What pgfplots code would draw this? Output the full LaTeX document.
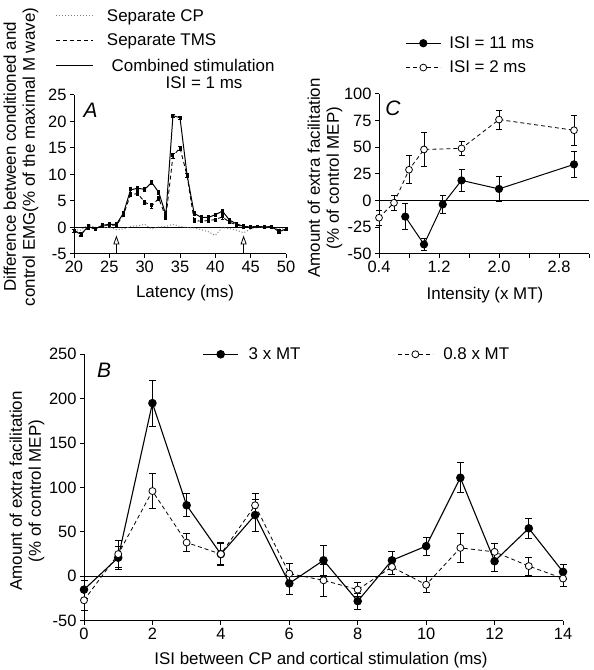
\documentclass[border=0pt]{standalone}
\usepackage{pgfplots}
\pgfplotsset{compat=1.18}
\usepackage{fontspec}
\setmainfont{Liberation Sans}
\usetikzlibrary{arrows.meta}
\newcommand{\lf}{\fontsize{17}{19}\selectfont}
\newcommand{\tf}{\fontsize{16.5}{19}\selectfont}
\pgfplotsset{
  myax/.style={
    scale only axis,
    axis lines=left,
    axis line style={-, line width=1bp},
    tick align=outside,
    major tick length=4bp,
    tick style={line width=1bp, black},
    /pgf/number format/assume math mode=true,
    tick label style={font=\tf},
    clip=false,
    legend style={draw=none, fill=none, font=\lf},
    legend cell align=left,
  },
  ebA/.style={error bars/.cd, y dir=both, y explicit, error bar style={line width=0.7bp,solid}, error mark options={rotate=90, mark size=1.6bp, line width=0.7bp}},
  ebC/.style={error bars/.cd, y dir=both, y explicit, error bar style={line width=0.8bp,solid}, error mark options={rotate=90, mark size=3bp, line width=0.8bp}},
  ebB/.style={error bars/.cd, y dir=both, y explicit, error bar style={line width=0.8bp,solid}, error mark options={rotate=90, mark size=3.5bp, line width=0.8bp}},
}
\begin{document}
\begin{tikzpicture}[x=1bp,y=1bp]
\path[use as bounding box] (0,0) rectangle (594,670);

%%%%% Panel A
\begin{axis}[myax, at={(74bp,416bp)}, anchor=south west, width=212bp, height=159bp,
  xmin=20, xmax=50, ymin=-5, ymax=25,
  xtick={20,25,...,50}, ytick={-5,0,...,25},
  legend style={at={(-0.10,1.566)}, anchor=north west, row sep=7.5bp, nodes={inner sep=2bp}, /tikz/every odd column/.append style={column sep=11bp}},
  legend image code/.code={\draw[#1] (0bp,0bp) -- (37bp,0bp);},
]
\addlegendimage{gray, dotted, line width=1bp}
\addlegendentry{Separate CP}
\addlegendimage{black, dash pattern=on 4bp off 3bp, line width=1bp}
\addlegendentry{Separate TMS}
\addlegendimage{black, line width=1bp}
\addlegendentry{\ Combined stimulation}
\draw[line width=1bp] (axis cs:20,0) -- (axis cs:50,0);
\addplot[forget plot, gray, dotted, line width=1bp] table {
x y
20 -0.4
21 -0.5
22 0.6
23 0.0
24 0.1
25 0.0
26 -0.4
27 -0.3
28 0.2
29 0.3
30 0.6
31 -0.3
32 0.1
33 0.2
34 0.6
35 0.2
36 0.0
37 -0.1
38 -0.4
39 -0.8
40 -1.5
41 0.0
42 -0.2
43 -0.5
44 -1.0
45 -0.3
46 0.0
47 0.0
48 -0.1
49 -0.3
50 -0.2
};
\addplot[forget plot, black, dash pattern=on 4bp off 3bp, line width=0.9bp, mark=square*, mark size=1bp, mark options={solid},
  ebA] table[x=x, y=y, y error=e] {
x y e
20 -0.6 0.3
21 -1.2 0.3
22 0.0 0.3
23 -0.2 0.3
24 0.3 0.3
25 0.5 0.3
26 0.4 0.3
27 2.4 0.3
28 6.2 0.4
29 6.4 0.4
30 4.8 0.4
31 4.1 0.4
32 5.5 0.4
33 1.9 0.4
34 13.5 0.4
35 15.0 0.4
36 9.8 0.4
37 1.3 0.4
38 1.2 0.3
39 1.3 0.3
40 1.5 0.3
41 2.0 0.4
42 1.0 0.3
43 0.5 0.3
44 0.1 0.3
45 0.0 0.2
46 0.2 0.2
47 0.0 0.2
48 0.1 0.2
49 -0.7 0.3
50 -0.3 0.3
};
\addplot[forget plot, black, line width=1bp, mark=square*, mark size=1bp,
  ebA] table[x=x, y=y, y error=e] {
x y e
20 -0.6 0.3
21 -1.3 0.3
22 0.2 0.3
23 -0.3 0.3
24 0.4 0.3
25 0.6 0.3
26 0.6 0.3
27 2.7 0.3
28 7.1 0.4
29 7.4 0.4
30 7.2 0.4
31 8.5 0.4
32 6.6 0.4
33 2.4 0.5
34 21.1 0.3
35 20.7 0.3
36 9.9 0.4
37 2.7 0.4
38 1.9 0.3
39 1.9 0.3
40 2.4 0.3
41 3.1 0.4
42 1.4 0.3
43 0.7 0.3
44 0.2 0.3
45 0.1 0.2
46 0.2 0.2
47 0.1 0.2
48 0.2 0.2
49 -0.8 0.3
50 -0.3 0.3
};
\draw[line width=0.8bp, -{Triangle[open, length=9bp, width=6bp]}] (axis cs:26,-4.9) -- (axis cs:26,-1.5);
\draw[line width=0.8bp, -{Triangle[open, length=9bp, width=6bp]}] (axis cs:44,-4.9) -- (axis cs:44,-1.5);
\end{axis}
\node[font=\lf] at (204,587) {ISI = 1 ms};
\node[font=\fontsize{21}{24}\selectfont\itshape] at (90.5,559.5) {A};
\node[font=\lf] at (185,377) {Latency (ms)};
\node[font=\lf, rotate=90, align=center] at (21,513) {Difference between conditioned and\\control EMG(\% of the maximal M wave)};

%%%%% Panel C
\begin{axis}[myax, at={(379bp,416bp)}, anchor=south west, width=210bp, height=160bp,
  xmin=0.4, xmax=3.2, ymin=-50, ymax=100,
  xtick={0.4,0.8,...,3.21}, xticklabels={0.4,,1.2,,2.0,,2.8,},
  ytick={-50,-25,...,100},
  legend image code/.code={\draw[#1] (0bp,0bp) -- (35bp,0bp); \draw[#1, solid] plot coordinates {(17.5bp,0bp)};},
  legend style={at={(0.11,1.385)}, anchor=north west, row sep=7bp, nodes={inner sep=2bp}, /tikz/every odd column/.append style={column sep=6bp}},
]
\addlegendimage{black, line width=1bp, mark=*, mark size=3.6bp}
\addlegendentry{ISI = 11 ms}
\addlegendimage{black, line width=0.8bp, dash pattern=on 4bp off 3bp, mark=*, mark size=3.4bp, mark options={solid, fill=white}}
\addlegendentry{ISI = 2 ms}
\draw[line width=1bp] (axis cs:0.4,0) -- (axis cs:3.2,0);
\addplot[forget plot, black, line width=1bp, mark=*, mark size=3.6bp, ebC] table[x=x, y=y, y error=e] {
x y e
0.75 -15 12
1.0 -41 6
1.25 -3.5 8
1.5 19 10
2.0 11 12
3.0 34 12
};
\addplot[forget plot, black, line width=0.8bp, dash pattern=on 4bp off 3bp, mark=*, mark size=3.4bp, mark options={solid, fill=white}, ebC] table[x=x, y=y, y error=e] {
x y e
0.4 -16 7
0.6 -2 7
0.8 29 13
1.0 48 16
1.5 49 7
2.0 76 9
3.0 66 14
};
\end{axis}
\node[font=\fontsize{21}{24}\selectfont\itshape] at (393,562) {C};
\node[font=\lf] at (485,375) {Intensity (x MT)};
\node[font=\lf, rotate=90, align=center] at (325,492) {Amount of extra facilitation\\(\% of control MEP)};

%%%%% Panel B
\begin{axis}[myax, at={(84bp,49.3bp)}, anchor=south west, width=479bp, height=266.4bp,
  xmin=0, xmax=14, ymin=-50, ymax=250,
  xtick={0,2,...,14}, ytick={-50,0,...,250},
  legend image code/.code={\draw[#1] (0bp,0bp) -- (35bp,0bp); \draw[#1, solid] plot coordinates {(17.5bp,0bp)};},
  legend columns=2,
  legend style={at={(0.241,1.0)}, anchor=west, nodes={inner sep=2bp}, /tikz/every odd column/.append style={column sep=8bp}, /tikz/every even column/.append style={column sep=95bp}},
]
\addlegendimage{black, line width=1.1bp, mark=*, mark size=3.7bp}
\addlegendentry{3 x MT}
\addlegendimage{black, line width=0.8bp, dash pattern=on 4bp off 3bp, mark=*, mark size=3.5bp, mark options={solid, fill=white}}
\addlegendentry{0.8 x MT}
\draw[line width=1bp] (axis cs:0,0) -- (axis cs:14,0);
\addplot[forget plot, black, line width=1.1bp, mark=*, mark size=3.7bp, ebB] table[x=x, y=y, y error=e] {
x y e
0 -15 10
1 21 13
2 195 26
3 80 13
4 25 13
5 69 18
6 -8 12
7 18 17
8 -28 9
9 18 10
10 34 10
11 111 17
12 17 11
13 54 11
14 5 8
};
\addplot[forget plot, black, line width=0.8bp, dash pattern=on 4bp off 3bp, mark=*, mark size=3.5bp, mark options={solid, fill=white}, ebB] table[x=x, y=y, y error=e] {
x y e
0 -27 11
1 25 15
2 96 20
3 38 10
4 25 12
5 80 13
6 3 12
7 -4.5 18
8 -15 8
9 10.5 8
10 -9.5 9
11 32 16
12 27.5 10
13 11.5 10
14 -2.5 9
};
\end{axis}
\node[font=\fontsize{21}{24}\selectfont\itshape] at (104,300) {B};
\node[font=\lf] at (321,10) {ISI between CP and cortical stimulation (ms)};
\node[font=\lf, rotate=90, align=center] at (27,179) {Amount of extra facilitation\\(\% of control MEP)};
\end{tikzpicture}
\end{document}
